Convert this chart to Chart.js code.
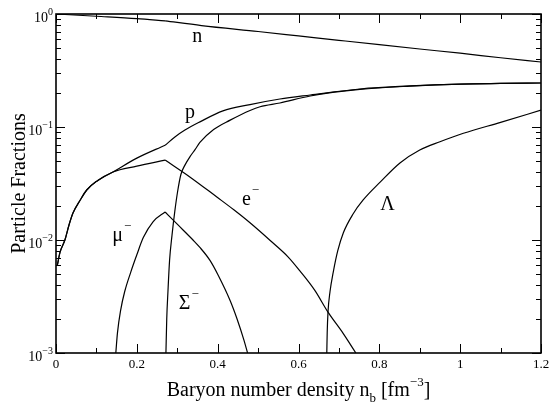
<!DOCTYPE html>
<html>
<head>
<meta charset="utf-8">
<script src="https://cdn.jsdelivr.net/npm/chart.js@4/dist/chart.umd.min.js"></script>
<style>
  html, body { margin: 0; padding: 0; background: #fff; }
</style>
</head>
<body>
<canvas id="grafico" width="551" height="407"></canvas>
<script>
// particle fractions vs baryon density
const nX = [0, 0.1, 0.2, 0.27, 0.36, 0.5, 0.6, 0.7, 0.8, 0.9, 1.0, 1.1, 1.2];
const nY = [1.0, 0.955, 0.91, 0.87, 0.79, 0.70, 0.64, 0.585, 0.535, 0.49, 0.45, 0.41, 0.376];

const pX = [0.003, 0.01, 0.022, 0.032, 0.042, 0.06, 0.076, 0.1, 0.141, 0.2, 0.27, 0.295, 0.319, 0.356, 0.413, 0.48, 0.554, 0.629, 0.752, 0.876, 1.0, 1.1, 1.2];
const pY = [0.0059, 0.0078, 0.010, 0.0135, 0.0173, 0.0226, 0.0277, 0.033, 0.040, 0.053, 0.069, 0.082, 0.094, 0.111, 0.139, 0.158, 0.177, 0.192, 0.217, 0.231, 0.240, 0.243, 0.245];

const eX = [0.003, 0.01, 0.022, 0.032, 0.042, 0.06, 0.076, 0.1, 0.141, 0.2, 0.27, 0.332, 0.398, 0.44, 0.48, 0.53, 0.574, 0.604, 0.64, 0.673, 0.71, 0.742];
const eY = [0.0059, 0.0078, 0.010, 0.0135, 0.0173, 0.0226, 0.0277, 0.033, 0.040, 0.045, 0.051, 0.036, 0.024, 0.0185, 0.0142, 0.0099, 0.0071, 0.0053, 0.0036, 0.0023, 0.0015, 0.001];

const muX = [0.148, 0.152, 0.16, 0.17, 0.185, 0.2, 0.216, 0.24, 0.27, 0.3, 0.339, 0.356, 0.381, 0.401, 0.431, 0.448, 0.465, 0.474];
const muY = [0.001, 0.0015, 0.0024, 0.0035, 0.0052, 0.0074, 0.0105, 0.0145, 0.0177, 0.0138, 0.010, 0.0086, 0.0066, 0.0049, 0.0029, 0.0020, 0.0013, 0.001];

const sigX = [0.272, 0.274, 0.277, 0.281, 0.287, 0.294, 0.301, 0.309, 0.319, 0.332, 0.344, 0.356, 0.39, 0.431, 0.48, 0.505, 0.554, 0.629, 0.752, 0.876, 1.0, 1.1, 1.2];
const sigY = [0.001, 0.002, 0.0035, 0.0066, 0.011, 0.018, 0.027, 0.038, 0.046, 0.055, 0.063, 0.073, 0.095, 0.115, 0.14, 0.151, 0.163, 0.188, 0.215, 0.230, 0.240, 0.243, 0.245];

const lamX = [0.670, 0.671, 0.673, 0.678, 0.686, 0.697, 0.711, 0.735, 0.76, 0.802, 0.851, 0.9, 0.95, 1.008, 1.1, 1.2];
const lamY = [0.001, 0.0015, 0.0023, 0.0035, 0.0052, 0.008, 0.0116, 0.017, 0.0226, 0.0325, 0.048, 0.0625, 0.074, 0.088, 0.110, 0.141];

// kink where the hyperons appear (x = 0.27)
const kink = 0.27;

// ticks
const xTickValues = [0, 0.2, 0.4, 0.6, 0.8, 1.0, 1.2];
const xTickLabels = ['0', '0.2', '0.4', '0.6', '0.8', '1', '1.2'];
const yTickExp = [0, -1, -2, -3];

// curve names (base, superscript)
const curveNames = [['n', ''], ['p', ''], ['e', '\u2212'], ['\u03bc', '\u2212'], ['\u03a3', '\u2212'], ['\u039b', '']];

function puntos(xs, ys) {
    return xs.map((x, i) => ({ x: x, y: ys[i] }));
}

// split a curve at the kink so the smoothing keeps the corner sharp
function tramos(nombre, xs, ys) {
    const k = xs.indexOf(kink);
    const base = { borderColor: '#000', borderWidth: 1.2, pointRadius: 0, fill: false, cubicInterpolationMode: 'monotone' };
    if (k <= 0 || k === xs.length - 1) {
        return [Object.assign({ label: nombre, data: puntos(xs, ys) }, base)];
    }
    return [
        Object.assign({ label: nombre, data: puntos(xs.slice(0, k + 1), ys.slice(0, k + 1)) }, base),
        Object.assign({ label: nombre, data: puntos(xs.slice(k), ys.slice(k)) }, base)
    ];
}

const serif = '"Liberation Serif", "DejaVu Serif", serif';

// where the curve names sit, in data units (left edge, baseline)
const posNombres = [[0.337, 0.56], [0.319, 0.12], [0.46, 0.0204], [0.139, 0.0098], [0.304, 0.00245], [0.802, 0.0184]];

const marco = {
    id: 'marco',
    afterDraw(chart) {
        const ctx = chart.ctx;
        const a = chart.chartArea;
        const sx = chart.scales.x;
        const sy = chart.scales.y;
        ctx.save();
        ctx.strokeStyle = '#000';
        ctx.fillStyle = '#000';

        function linea(x1, y1, x2, y2) {
            ctx.beginPath();
            ctx.moveTo(x1, y1);
            ctx.lineTo(x2, y2);
            ctx.stroke();
        }

        // ticks on x (bottom and top, inward)
        ctx.lineWidth = 1;
        for (let i = 0; i <= 12; i++) {
            const px = Math.round(sx.getPixelForValue(i / 10)) + 0.5;
            const largo = i % 2 ? 5 : 9;
            linea(px, a.bottom, px, a.bottom - largo);
            linea(px, a.top, px, a.top + largo);
        }
        // ticks on y (left and right, inward)
        for (let d = -3; d <= 0; d++) {
            for (let k = 1; k <= 9; k++) {
                if (d === 0 && k > 1) break;
                const py = Math.round(sy.getPixelForValue(k * Math.pow(10, d))) + 0.5;
                const largo = k === 1 ? 9 : 5;
                linea(a.left, py, a.left + largo, py);
                linea(a.right, py, a.right - largo, py);
            }
        }

        // frame
        ctx.lineWidth = 1.6;
        ctx.strokeRect(a.left, a.top, a.right - a.left, a.bottom - a.top);

        // x tick labels
        ctx.font = '13px ' + serif;
        ctx.textAlign = 'center';
        ctx.textBaseline = 'alphabetic';
        xTickValues.forEach((v, i) => {
            ctx.fillText(xTickLabels[i], sx.getPixelForValue(v), a.bottom + 15);
        });

        // y tick labels 10^n
        yTickExp.forEach(e => {
            const py = sy.getPixelForValue(Math.pow(10, e));
            const exp = e === 0 ? '0' : '\u2212' + (-e);
            ctx.font = '10px ' + serif;
            const wExp = ctx.measureText(exp).width;
            const xExp = a.left - 3 - wExp;
            ctx.textAlign = 'left';
            ctx.fillText(exp, xExp, py + 1);
            ctx.font = '14px ' + serif;
            ctx.textAlign = 'right';
            ctx.fillText('10', xExp, py + 8);
        });

        // curve names
        ctx.textAlign = 'left';
        curveNames.forEach((nm, i) => {
            const px = sx.getPixelForValue(posNombres[i][0]);
            const py = sy.getPixelForValue(posNombres[i][1]);
            ctx.font = '20px ' + serif;
            ctx.fillText(nm[0], px, py);
            if (nm[1]) {
                const w = ctx.measureText(nm[0]).width;
                ctx.font = '13px ' + serif;
                ctx.fillText(nm[1], px + w + 1, py - 11);
            }
        });

        // x title with subscript and superscript
        const partes = [
            ['Baryon number density n', 20, 0],
            ['b', 13, 6],
            [' [fm', 20, 0],
            ['\u22123', 13, -10],
            [']', 20, 0]
        ];
        let total = 0;
        partes.forEach(p => { ctx.font = p[1] + 'px ' + serif; total += ctx.measureText(p[0]).width; });
        let cx = (a.left + a.right) / 2 - total / 2;
        partes.forEach(p => {
            ctx.font = p[1] + 'px ' + serif;
            ctx.fillText(p[0], cx, 396 + p[2]);
            cx += ctx.measureText(p[0]).width;
        });

        // y title
        ctx.translate(25, (a.top + a.bottom) / 2);
        ctx.rotate(-Math.PI / 2);
        ctx.textAlign = 'center';
        ctx.font = '20px ' + serif;
        ctx.fillText('Particle Fractions', 0, 0);
        ctx.restore();
    }
};

new Chart(document.getElementById('grafico').getContext('2d'), {
    type: 'line',
    data: {
        datasets: [].concat(
            tramos('n', nX, nY),
            tramos('p', pX, pY),
            tramos('e-', eX, eY),
            tramos('mu-', muX, muY),
            tramos('Sigma-', sigX, sigY),
            tramos('Lambda', lamX, lamY)
        )
    },
    options: {
        responsive: false,
        animation: false,
        layout: { padding: { left: 56, right: 10, top: 14, bottom: 54 } },
        scales: {
            x: { type: 'linear', min: 0, max: 1.2, display: false },
            y: { type: 'logarithmic', min: 0.001, max: 1, display: false }
        },
        plugins: {
            legend: { display: false },
            tooltip: { enabled: false }
        }
    },
    plugins: [marco]
});
</script>
</body>
</html>
